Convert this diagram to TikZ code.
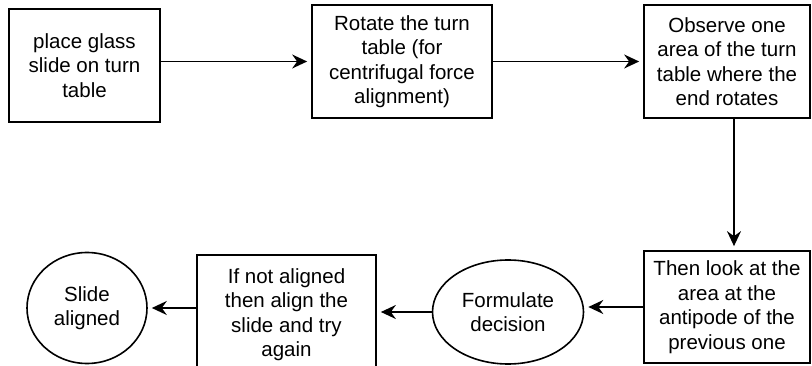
\documentclass[tikz,border=0pt]{standalone}
\usepackage{fontspec}
\setmainfont{Liberation Sans}
\usetikzlibrary{arrows.meta,shapes.geometric}
\begin{document}
\begin{tikzpicture}[x=1pt,y=-1pt,
  every node/.style={font=\fontsize{20.5}{24.5}\selectfont, align=center, inner sep=0pt},
  stepbox/.style={draw, line width=1.7pt, rectangle},
  roundbox/.style={draw, line width=1.6pt, ellipse},
  arr/.style={line width=1.7pt, -{Stealth[length=15pt,width=14pt,inset=5pt]}, shorten >=4pt}]
\useasboundingbox (0,0) rectangle (812,366);

% top row
\node[stepbox, minimum width=151pt, minimum height=113pt] (b1) at (84.5,65.5)
  {place glass\\slide on turn\\table};
\node[stepbox, minimum width=180pt, minimum height=113pt] (b2) at (402,61.5)
  {Rotate the turn\\table (for\\centrifugal force\\alignment)};
\node[stepbox, minimum width=166pt, minimum height=113pt] (b3) at (727,61.5)
  {Observe one\\area of the turn\\table where the\\end rotates};

% bottom row
\node[stepbox, minimum width=166pt, minimum height=112pt] (b4) at (727,307)
  {Then look at the\\area at the\\antipode of the\\previous one};
\node[roundbox, minimum width=151pt, minimum height=104pt] (e1) at (508,312)
  {Formulate\\decision};
\node[stepbox, minimum width=179pt, minimum height=119pt] (b5) at (286.5,314.5)
  {If not aligned\\then align the\\slide and try\\again};
\node[roundbox, minimum width=120pt, minimum height=111pt] (c1) at (87,308)
  {Slide\\aligned};

% connectors
\draw[arr] (b1.east |- b2.west) -- (b2.west);
\draw[arr] (b2.east) -- (b3.west);
\draw[arr] ([xshift=7pt]b3.south) -- ([xshift=7pt]b4.north);
\draw[arr] (b4.west) -- (b4.west -| e1.east);
\draw[arr] (e1.west) -- (e1.west -| b5.east);
\draw[arr] (b5.west |- c1.east) -- (c1.east);
\end{tikzpicture}
\end{document}
